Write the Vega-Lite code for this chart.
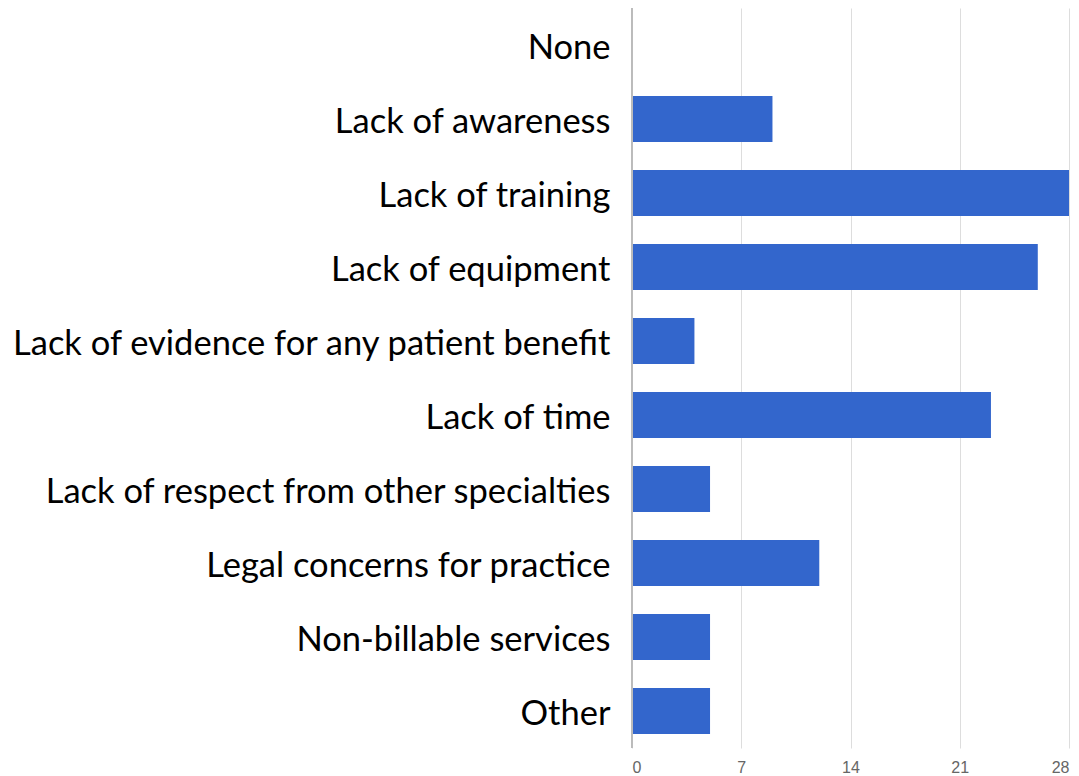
{
  "$schema": "https://vega.github.io/schema/vega-lite/v6.json",
  "autosize": "none",
  "width": 437,
  "height": 740,
  "padding": {"left": 632, "top": 8, "right": 10, "bottom": 28},
  "background": "white",
  "config": {"view": {"stroke": null}},
  "data": {"values": [
    {"reason": "None", "count": 0},
    {"reason": "Lack of awareness", "count": 9},
    {"reason": "Lack of training", "count": 28},
    {"reason": "Lack of equipment", "count": 26},
    {"reason": "Lack of evidence for any patient benefit", "count": 4},
    {"reason": "Lack of time", "count": 23},
    {"reason": "Lack of respect from other specialties", "count": 5},
    {"reason": "Legal concerns for practice", "count": 12},
    {"reason": "Non-billable services", "count": 5},
    {"reason": "Other", "count": 5}
  ]},
  "layer": [
    {
      "mark": {"type": "bar", "color": "#3366CC"},
      "encoding": {
        "y": {"field": "reason", "type": "nominal", "sort": null,
          "scale": {"paddingInner": 0.38, "paddingOuter": 0.19},
          "axis": {"title": null, "domain": false, "ticks": false, "labelFontSize": 34.5, "labelFont": "Lato", "labelColor": "#000", "labelPadding": 22, "labelLimit": 700, "labelOffset": 4}},
        "x": {"field": "count", "type": "quantitative",
          "scale": {"domain": [0, 28], "nice": false},
          "axis": {"title": null, "values": [0, 7, 14, 21, 28], "domain": false, "ticks": false, "grid": true, "gridColor": "#dddddd", "labelFontSize": 16, "labelColor": "#666", "labelFont": "Arial", "labelPadding": 11}}
      }
    },
    {
      "mark": {"type": "rule", "color": "#bbbbbb"},
      "encoding": {"x": {"datum": 0, "type": "quantitative"}}
    }
  ]
}
